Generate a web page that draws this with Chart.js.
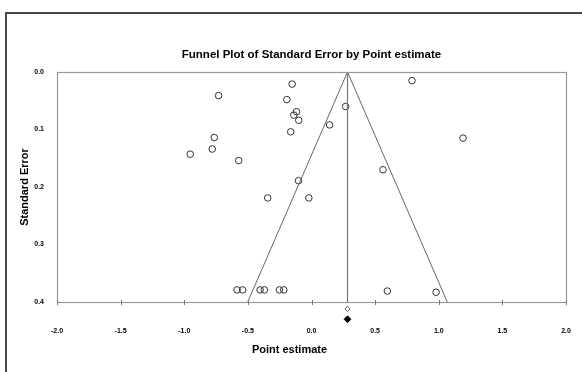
<!DOCTYPE html>
<html>
<head>
<meta charset="utf-8">
<script src="https://cdn.jsdelivr.net/npm/chart.js@4/dist/chart.umd.min.js"></script>
<style>
  html, body { margin: 0; background: #fff; overflow: hidden; }
  #wrap { position: relative; width: 582px; height: 372px; overflow: hidden; }
  #wrap canvas { display: block; }
  #frame { position: absolute; left: 5px; top: 12px; right: 0; bottom: 0; border-left: 2px solid #4a4a4a; border-top: 2px solid #4a4a4a; pointer-events: none; }
</style>
</head>
<body>
<div id="wrap">
  <canvas id="grafico1"></canvas>
  <div id="frame"></div>
</div>
<script>
// estudios individuales (estimacion puntual, error estandar)
const studyEstimate = [
  -0.152, -0.730, -0.194, -0.118, -0.139, -0.100, 0.268, 0.142, -0.163,
  -0.764, -0.780, -0.953, -0.572, -0.102, -0.344, -0.021,
  -0.585, -0.541, -0.404, -0.370, -0.252, -0.218,
  0.790, 1.191, 0.562, 0.596, 0.979
];
const studySE = [
  0.021, 0.041, 0.048, 0.069, 0.075, 0.084, 0.060, 0.092, 0.104,
  0.114, 0.134, 0.143, 0.154, 0.189, 0.219, 0.219,
  0.379, 0.379, 0.379, 0.379, 0.379, 0.379,
  0.015, 0.115, 0.170, 0.381, 0.383
];

// estimacion combinada (observada y ajustada)
const pooledEstimate = 0.283;
const summaryEstimate = [0.283, 0.283];
const summarySE = [0.412, 0.43];

const xTicks = [-2.0, -1.5, -1.0, -0.5, 0.0, 0.5, 1.0, 1.5, 2.0];
const yTicks = [0.0, 0.1, 0.2, 0.3, 0.4];
const maxSE = 0.4;

const chartTitle = "Funnel Plot of Standard Error by Point estimate";
const xTitle = "Point estimate";
const yTitle = "Standard Error";

const studies = studyEstimate.map((x, i) => ({ x: x, y: studySE[i] }));
const funnel = [
  { x: pooledEstimate - 1.96 * maxSE, y: maxSE },
  { x: pooledEstimate, y: 0 },
  { x: pooledEstimate + 1.96 * maxSE, y: maxSE }
];
const centerLine = [{ x: pooledEstimate, y: 0 }, { x: pooledEstimate, y: maxSE }];

Chart.defaults.font.family = "'Liberation Sans', Arial, sans-serif";
Chart.defaults.color = "#000";

// marco del area, marcas del eje x, diamantes bajo el eje, titulos
const plotFrame = {
  id: "plotFrame",
  afterDraw(chart) {
    const { ctx, chartArea: a, scales } = chart;
    const mid = (a.left + a.right) / 2;
    ctx.save();
    ctx.strokeStyle = "#999";
    ctx.lineWidth = 1.2;
    ctx.strokeRect(Math.round(a.left) + 0.5, Math.round(a.top) + 0.5,
      Math.round(a.right - a.left), Math.round(a.bottom - a.top));

    ctx.strokeStyle = "#777";
    ctx.lineWidth = 1;
    xTicks.forEach((v) => {
      const px = Math.round(scales.x.getPixelForValue(v)) + 0.5;
      ctx.beginPath();
      ctx.moveTo(px, a.bottom - 2);
      ctx.lineTo(px, a.bottom + 3);
      ctx.stroke();
    });

    // diamante abierto (observado) y relleno (ajustado)
    const styles = [
      { radius: 2.6, fill: "#fff", stroke: "#555" },
      { radius: 3.4, fill: "#000", stroke: "#000" }
    ];
    summaryEstimate.forEach((v, i) => {
      const px = scales.x.getPixelForValue(v);
      const py = scales.y.getPixelForValue(summarySE[i]);
      ctx.fillStyle = styles[i].fill;
      ctx.strokeStyle = styles[i].stroke;
      ctx.lineWidth = 1;
      Chart.helpers.drawPoint(ctx, { pointStyle: "rectRot", radius: styles[i].radius, rotation: 0, borderWidth: 1 }, px, py);
    });

    ctx.fillStyle = "#000";
    ctx.textAlign = "center";
    ctx.textBaseline = "middle";
    ctx.font = "bold 11.5px 'Liberation Sans', Arial, sans-serif";
    ctx.fillText(chartTitle, mid, a.top - 17);
    ctx.font = "bold 11px 'Liberation Sans', Arial, sans-serif";
    ctx.fillText(xTitle, mid - 22, 350);
    ctx.restore();
  }
};

const ctx = document.getElementById("grafico1").getContext("2d");
new Chart(ctx, {
  type: "scatter",
  data: {
    datasets: [
      {
        label: "Funnel",
        data: funnel,
        showLine: true,
        borderColor: "#666",
        borderWidth: 1,
        pointRadius: 0,
        fill: false
      },
      {
        label: "Center",
        data: centerLine,
        showLine: true,
        borderColor: "#777",
        borderWidth: 1.2,
        pointRadius: 0,
        fill: false
      },
      {
        label: "Studies",
        data: studies,
        pointStyle: "circle",
        pointRadius: 3.3,
        borderColor: "#333",
        borderWidth: 1,
        backgroundColor: "rgba(255,255,255,0)"
      }
    ]
  },
  options: {
    responsive: true,
    maintainAspectRatio: false,
    animation: false,
    layout: { padding: { left: 6, right: 16, top: 72, bottom: 0 } },
    plugins: {
      legend: { display: false },
      tooltip: { enabled: false },
      title: { display: false }
    },
    scales: {
      x: {
        type: "linear",
        min: xTicks[0],
        max: xTicks[xTicks.length - 1],
        afterBuildTicks: (s) => { s.ticks = xTicks.map((v) => ({ value: v })); },
        afterFit: (s) => { s.height = 70; },
        ticks: {
          callback: (v) => Number(v).toFixed(1),
          font: { size: 7, weight: "bold" },
          padding: 3,
          maxRotation: 0,
          autoSkip: false
        },
        grid: { display: true, drawOnChartArea: false, drawTicks: true, tickLength: 22, tickColor: "rgba(0,0,0,0)" },
        border: { display: false }
      },
      y: {
        type: "linear",
        reverse: true,
        min: yTicks[0],
        max: yTicks[yTicks.length - 1],
        afterBuildTicks: (s) => { s.ticks = yTicks.map((v) => ({ value: v })); },
        afterFit: (s) => { s.width = 51; },
        ticks: {
          callback: (v) => Number(v).toFixed(1),
          font: { size: 7, weight: "bold" },
          padding: 13
        },
        grid: { display: false, drawTicks: false },
        border: { display: false },
        title: {
          display: true,
          text: yTitle,
          font: { size: 11, weight: "bold" },
          color: "#000",
          padding: { top: 12, bottom: 0 }
        }
      }
    }
  },
  plugins: [plotFrame]
});
</script>
</body>
</html>
